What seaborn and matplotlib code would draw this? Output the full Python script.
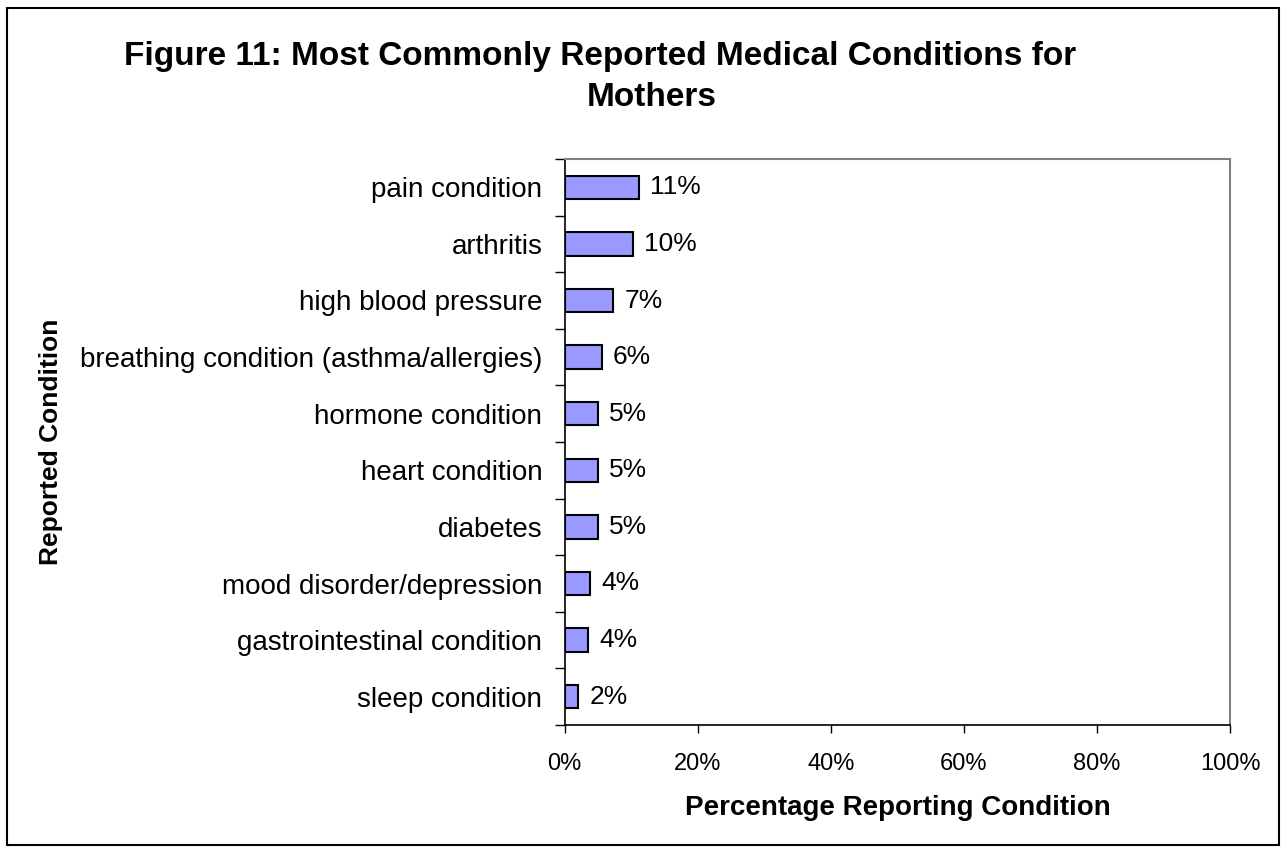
import matplotlib
matplotlib.use('Agg')
import matplotlib.pyplot as plt
import seaborn as sns
import pandas as pd
import numpy as np
from matplotlib.ticker import PercentFormatter, FixedLocator

conditions = ['pain condition', 'arthritis', 'high blood pressure',
              'breathing condition (asthma/allergies)', 'hormone condition',
              'heart condition', 'diabetes', 'mood disorder/depression',
              'gastrointestinal condition', 'sleep condition']
pct = [11.2, 10.3, 7.3, 5.6, 5.0, 5.0, 5.0, 3.9, 3.6, 2.1]
bar_labels = ['11%', '10%', '7%', '6%', '5%', '5%', '5%', '4%', '4%', '2%']

sns.set_style('white')
plt.rcParams['font.family'] = ['Liberation Sans', 'DejaVu Sans']
plt.rcParams['text.color'] = 'black'
plt.rcParams['xtick.color'] = 'black'
plt.rcParams['ytick.color'] = 'black'
plt.rcParams['axes.labelcolor'] = 'black'

df = pd.DataFrame({'condition': conditions, 'pct': pct})

W, H = 1283, 848
fig = plt.figure(figsize=(W / 100, H / 100), dpi=100)
ax = fig.add_axes([564.5 / W, 1 - 725 / H, 665.5 / W, 566 / H])

sns.barplot(data=df, x='pct', y='condition', orient='h', color='#9999FF',
            edgecolor='black', linewidth=1.5, width=0.41, saturation=1, ax=ax)
ax.bar_label(ax.containers[0], labels=bar_labels, padding=8, fontsize=19)

ax.set_xlim(0, 100)
ax.set_ylim(len(conditions) - 0.5, -0.5)
ax.xaxis.set_major_formatter(PercentFormatter(decimals=0))
ax.set_xticks([0, 20, 40, 60, 80, 100])
ax.tick_params(axis='x', direction='out', length=6, width=1, color='black',
               labelsize=17, pad=14, bottom=True)
ax.tick_params(axis='y', which='major', length=0, labelsize=20, pad=16)
ax.yaxis.set_minor_locator(FixedLocator(np.arange(-0.5, len(conditions), 1.0)))
ax.tick_params(axis='y', which='minor', direction='out', length=7, width=1,
               color='black', left=True)

for side in ['top', 'right']:
    ax.spines[side].set_color('#808080')
    ax.spines[side].set_linewidth(1.5)
for side in ['left', 'bottom']:
    ax.spines[side].set_color('black')
    ax.spines[side].set_linewidth(1.2)

ax.set_xlabel('')
ax.set_ylabel('')
fig.text(898 / W, 1 - 808 / H, 'Percentage Reporting Condition', fontsize=20,
         fontweight='bold', ha='center', va='center')
fig.text(51 / W, 1 - 442 / H, 'Reported Condition', rotation=90, fontsize=19,
         fontweight='bold', ha='center', va='center')

fig.text(600 / W, 1 - 56 / H, 'Figure 11: Most Commonly Reported Medical Conditions for',
         fontsize=24, fontweight='bold', ha='center', va='center')
fig.text(652 / W, 1 - 97 / H, 'Mothers', fontsize=24, fontweight='bold',
         ha='center', va='center')

fig.patches.append(plt.Rectangle((7 / W, 3 / H), 1 - 11 / W, 1 - 11 / H,
                                 transform=fig.transFigure, fill=False,
                                 edgecolor='black', linewidth=1.5))

fig.savefig('out.png', dpi=100)
